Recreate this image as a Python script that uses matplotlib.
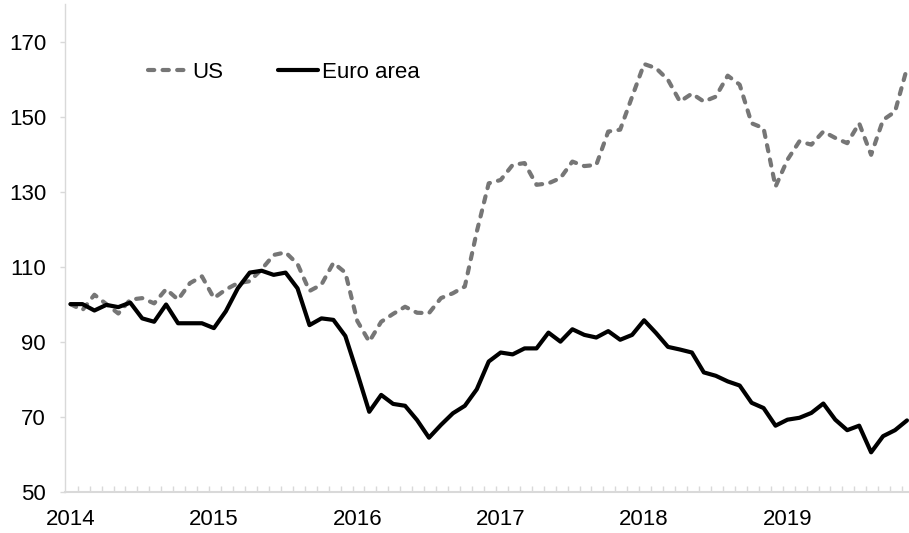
import matplotlib
matplotlib.use("Agg")
import matplotlib.pyplot as plt
from matplotlib.ticker import FixedLocator

# Monthly index, Jan 2014 = 100 (Jan 2014 .. Nov 2019)
years = ["2014", "2015", "2016", "2017", "2018", "2019"]

us = [100.0, 98.4, 102.5, 100.0, 97.5, 101.2, 101.6, 100.2, 104.0, 101.2, 105.6, 107.4,
      101.6, 103.9, 105.6, 106.1, 109.3, 113.1, 113.8, 110.7, 103.5, 105.2, 111.0, 108.4,
      95.5, 90.0, 95.3, 97.4, 99.3, 97.7, 97.6, 101.6, 102.9, 104.7, 119.3, 132.2,
      133.1, 137.1, 137.6, 131.8, 132.2, 133.6, 138.0, 136.8, 137.1, 146.0, 146.5, 155.3,
      164.0, 162.9, 159.8, 154.0, 156.1, 154.0, 155.3, 160.9, 158.5, 148.2, 146.9, 131.3,
      138.5, 143.4, 142.5, 146.0, 144.3, 142.9, 148.2, 139.8, 149.1, 151.3, 162.9]

euro = [100.0, 100.0, 98.3, 99.8, 99.2, 100.4, 96.2, 95.3, 99.9, 94.9, 94.9, 94.9,
        93.6, 98.1, 104.2, 108.4, 108.9, 107.8, 108.4, 104.2, 94.4, 96.2, 95.8, 91.5,
        81.6, 71.3, 75.8, 73.4, 72.9, 69.1, 64.4, 67.8, 70.9, 72.9, 77.3, 84.7,
        87.1, 86.6, 88.2, 88.2, 92.4, 90.0, 93.3, 91.8, 91.1, 92.8, 90.5, 91.8,
        95.7, 92.3, 88.6, 87.9, 87.1, 81.8, 80.9, 79.4, 78.3, 73.7, 72.3, 67.6,
        69.2, 69.7, 71.0, 73.5, 69.2, 66.4, 67.6, 60.5, 64.8, 66.4, 69.0]

yticks = [50, 70, 90, 110, 130, 150, 170]

plt.rcParams['font.family'] = ['Liberation Sans', 'DejaVu Sans']

W, H = 909, 533
fig = plt.figure(figsize=(W / 100, H / 100), dpi=100)
left, right, top, bottom = 65, 909, 4, 491.7
ax = fig.add_axes([left / W, (H - bottom) / H, (right - left) / W, (bottom - top) / H])

x = list(range(len(euro)))
lw = 3.0
ax.plot(x, us, color='#767676', lw=lw, linestyle=(0, (1.5, 2.0)),
        dash_capstyle='round', solid_joinstyle='round', label='US', clip_on=False)
ax.plot(x, euro, color='black', lw=lw, solid_joinstyle='round',
        solid_capstyle='round', label='Euro area', clip_on=False)

ax.set_xlim(-0.46, 70.17)
ax.set_ylim(50, 180)

ax.set_yticks(yticks)
ax.set_yticklabels([str(v) for v in yticks])
ax.set_xticks([12 * k for k in range(len(years))])
ax.set_xticklabels(years)
ax.xaxis.set_minor_locator(FixedLocator([k + 0.6 for k in range(70)]))

grey = '#d9d9d9'
for s in ['top', 'right']:
    ax.spines[s].set_visible(False)
ax.spines['left'].set_color(grey)
ax.spines['left'].set_linewidth(1.0)
ax.spines['bottom'].set_color(grey)
ax.spines['bottom'].set_linewidth(1.5)

fs = 16
ax.tick_params(axis='y', which='major', direction='out', length=3.6, width=1.0,
               color=grey, pad=10.0, labelsize=fs, labelcolor='black')
ax.tick_params(axis='x', which='major', length=0, pad=12.5, labelsize=fs,
               labelcolor='black')
ax.tick_params(axis='x', which='minor', direction='in', length=4.0, width=1.0,
               color=grey)

leg = ax.legend(loc='center left', bbox_to_anchor=(148 / W, 1 - 72 / H),
                bbox_transform=fig.transFigure, ncol=2, frameon=False,
                fontsize=fs, handlelength=1.8, handletextpad=0.2,
                columnspacing=2.45, borderpad=0, borderaxespad=0)

fig.savefig('out.png', dpi=100)
